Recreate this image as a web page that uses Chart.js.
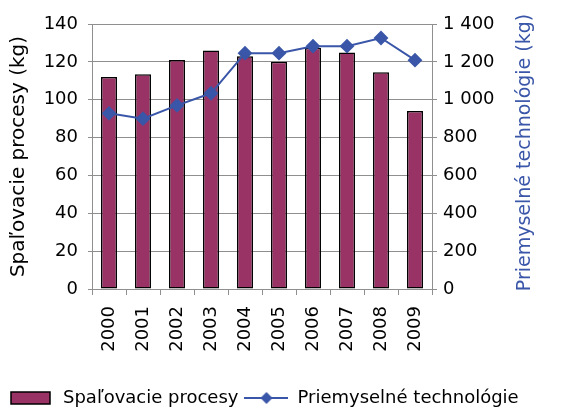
<!DOCTYPE html>
<html lang="sk">
<head>
    <meta charset="UTF-8">
    <title>Spaľovacie procesy a priemyselné technológie</title>
    <script src="https://cdn.jsdelivr.net/npm/chart.js"></script>
    <style>
        html, body {
            margin: 0;
            padding: 0;
            background: #fff;
        }
        #wrap {
            width: 569px;
            height: 412px;
        }
    </style>
</head>
<body>
    <div id="wrap"><canvas id="chart" width="569" height="412"></canvas></div>

    <script>
        // Data
        const years = ['2000', '2001', '2002', '2003', '2004', '2005', '2006', '2007', '2008', '2009'];
        const spalovacieProcesy = [112, 113.5, 121, 126, 123, 120, 127.5, 125, 114.5, 94];
        const priemyselneTechnologie = [928, 900, 970, 1034, 1246, 1246, 1283, 1283, 1326, 1209];

        const barColor = '#993366';
        const lineColor = '#3a56a8';
        const gridColor = '#8f8f8f';
        const fontFamily = '"DejaVu Sans", sans-serif';
        const swatchW = 44;

        // Legend swatches (bar rectangle, line with diamond)
        function barSwatch() {
            const c = document.createElement('canvas');
            c.width = swatchW; c.height = 16;
            const g = c.getContext('2d');
            g.fillStyle = barColor;
            g.fillRect(1, 2, swatchW - 5, 12);
            g.strokeStyle = '#000';
            g.lineWidth = 1.5;
            g.strokeRect(1, 2, swatchW - 5, 12);
            return c;
        }
        function lineSwatch() {
            const c = document.createElement('canvas');
            c.width = swatchW; c.height = 16;
            const g = c.getContext('2d');
            const mid = swatchW / 2;
            g.strokeStyle = lineColor;
            g.lineWidth = 2;
            g.beginPath();
            g.moveTo(0, 8); g.lineTo(swatchW, 8);
            g.stroke();
            g.fillStyle = lineColor;
            g.beginPath();
            g.moveTo(mid, 2); g.lineTo(mid + 6, 8); g.lineTo(mid, 14); g.lineTo(mid - 6, 8);
            g.closePath();
            g.fill();
            return c;
        }

        // Right axis title reads bottom-to-top, so draw it by hand
        const rightTitle = {
            id: 'rightTitle',
            afterDraw(chart) {
                const ctx = chart.ctx;
                const area = chart.chartArea;
                ctx.save();
                ctx.translate(525, (area.top + area.bottom) / 2 - 4);
                ctx.rotate(-Math.PI / 2);
                ctx.textAlign = 'center';
                ctx.textBaseline = 'middle';
                ctx.fillStyle = lineColor;
                ctx.font = '19px ' + fontFamily;
                ctx.fillText('Priemyselné technológie (kg)', 0, 0);
                ctx.restore();
            }
        };

        const ctx = document.getElementById('chart').getContext('2d');
        new Chart(ctx, {
            type: 'bar',
            data: {
                labels: years,
                datasets: [
                    {
                        type: 'bar',
                        label: 'Spaľovacie procesy',
                        data: spalovacieProcesy,
                        backgroundColor: barColor,
                        borderColor: '#000',
                        borderWidth: 1.5,
                        borderSkipped: false,
                        barPercentage: 0.47,
                        categoryPercentage: 1,
                        yAxisID: 'y',
                        order: 2
                    },
                    {
                        type: 'line',
                        label: 'Priemyselné technológie',
                        data: priemyselneTechnologie,
                        borderColor: lineColor,
                        backgroundColor: lineColor,
                        borderWidth: 2,
                        pointStyle: 'rectRot',
                        pointRadius: 6,
                        pointBackgroundColor: lineColor,
                        pointBorderColor: lineColor,
                        tension: 0,
                        yAxisID: 'y2',
                        order: 1
                    }
                ]
            },
            options: {
                responsive: false,
                animation: false,
                layout: {
                    padding: { top: 24, left: 4, right: 0, bottom: -5 }
                },
                plugins: {
                    tooltip: { enabled: false },
                    legend: {
                        position: 'bottom',
                        align: 'start',
                        labels: {
                            usePointStyle: true,
                            pointStyleWidth: swatchW,
                            padding: 6,
                            color: '#000',
                            font: { family: fontFamily, size: 18 },
                            generateLabels(chart) {
                                const items = Chart.defaults.plugins.legend.labels.generateLabels(chart);
                                items.sort((a, b) => a.datasetIndex - b.datasetIndex);
                                items[0].pointStyle = barSwatch();
                                items[1].pointStyle = lineSwatch();
                                return items;
                            }
                        }
                    }
                },
                scales: {
                    x: {
                        grid: {
                            offset: true,
                            drawOnChartArea: false,
                            color: gridColor,
                            tickLength: 6
                        },
                        border: { color: gridColor },
                        ticks: {
                            color: '#000',
                            font: { family: fontFamily, size: 18 },
                            minRotation: 90,
                            maxRotation: 90,
                            padding: 11
                        },
                        afterFit(scale) { scale.height = 94; }
                    },
                    y: {
                        position: 'left',
                        min: 0,
                        max: 140,
                        ticks: {
                            stepSize: 20,
                            color: '#000',
                            font: { family: fontFamily, size: 18 },
                            padding: 10
                        },
                        grid: { color: gridColor, tickLength: 4 },
                        border: { color: gridColor },
                        title: {
                            display: true,
                            text: 'Spaľovacie procesy (kg)',
                            color: '#000',
                            font: { family: fontFamily, size: 20 },
                            padding: { top: 3, bottom: 4 }
                        },
                        afterFit(scale) { scale.width = 88; }
                    },
                    y2: {
                        position: 'right',
                        min: 0,
                        max: 1400,
                        ticks: {
                            stepSize: 200,
                            color: '#000',
                            font: { family: fontFamily, size: 18 },
                            padding: 6,
                            callback: v => String(v).replace(/\B(?=(\d{3})+(?!\d))/g, ' ')
                        },
                        grid: { drawOnChartArea: false, color: gridColor, tickLength: 5 },
                        border: { color: gridColor },
                        afterFit(scale) { scale.width = 137; }
                    }
                }
            },
            plugins: [rightTitle]
        });
    </script>
</body>
</html>
